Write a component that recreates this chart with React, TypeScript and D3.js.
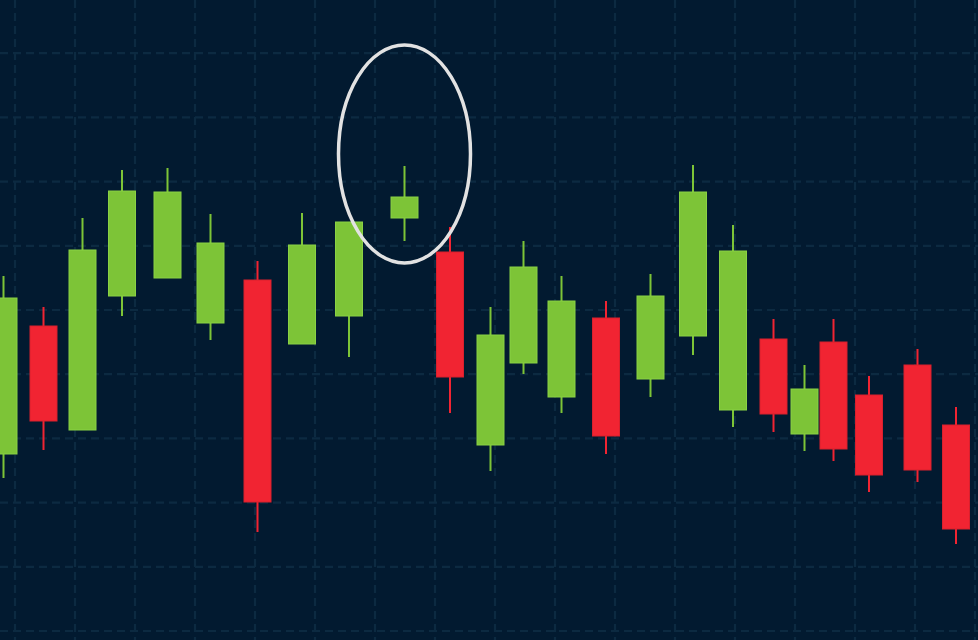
import React from "react";
import * as d3 from "d3";

const W = 978;
const H = 640;

// time position of each candle
const times = [3.5, 43.5, 82.5, 122, 167.5, 210.5, 257.5, 302, 349, 404.5, 450, 490.5, 523.5, 561.5, 606, 650.5, 693, 733, 773.5, 804.5, 833.5, 869, 917.5, 956];
const opens = [186, 314, 210, 344, 362, 317, 360, 296, 324, 422, 388, 195, 277, 243, 322, 261, 304, 230, 301, 206, 298, 245, 275, 215];
const closes = [342, 219, 390, 449, 448, 397, 138, 395, 418, 443, 263, 305, 373, 339, 204, 344, 448, 389, 226, 251, 191, 165, 170, 111];
const highs = [364, 333, 422, 470, 472, 426, 379, 427, 418, 474, 413, 333, 399, 364, 339, 366, 475, 415, 321, 275, 321, 264, 291, 233];
const lows = [162, 190, 210, 324, 362, 300, 108, 296, 283, 399, 227, 169, 266, 227, 186, 243, 285, 213, 208, 189, 179, 148, 158, 96];

// grid
const gridTimes = d3.range(15, 990, 60);
const gridPrices = d3.range(9, 660, 64.2);

// highlighted candle
const highlightIndex = 9;
const highlightCenterPrice = 486;

const BG = "#021a30";
const GRID = "#0c2a41";
const GREEN = "#7dc437";
const GREEN_EDGE = "#8ad244";
const RED = "#f12432";
const RED_EDGE = "#d9202d";

export default function App() {
  const x = d3.scaleLinear().domain([0, W]).range([0, W]);
  const y = d3.scaleLinear().domain([0, H]).range([H, 0]);
  const bodyW = 27;

  const candles = times.map((t, i) => ({
    t,
    o: opens[i],
    c: closes[i],
    h: highs[i],
    l: lows[i],
  }));

  return (
    <svg
      width={W}
      height={H}
      style={{ position: "absolute", left: 0, top: 0, display: "block" }}
    >
      <rect x={0} y={0} width={W} height={H} fill={BG} />
      <g>
        {gridTimes.map((g) => (
          <line
            key={"v" + g}
            x1={x(g)}
            x2={x(g)}
            y1={0}
            y2={H}
            stroke={GRID}
            strokeWidth={2.2}
            strokeDasharray="8 5"
          />
        ))}
        {gridPrices.map((g) => (
          <line
            key={"h" + g}
            x1={0}
            x2={W}
            y1={y(g)}
            y2={y(g)}
            stroke={GRID}
            strokeWidth={2.2}
            strokeDasharray="8 5"
          />
        ))}
      </g>
      <g>
        {candles.map((d, i) => {
          const up = d.c >= d.o;
          const fill = up ? GREEN : RED;
          const edge = up ? GREEN_EDGE : RED_EDGE;
          const cx = x(d.t);
          const top = y(Math.max(d.o, d.c));
          const bot = y(Math.min(d.o, d.c));
          return (
            <g key={i}>
              <line
                x1={cx}
                x2={cx}
                y1={y(d.h)}
                y2={y(d.l)}
                stroke={fill}
                strokeWidth={2}
              />
              <rect
                x={cx - bodyW / 2}
                y={top}
                width={bodyW}
                height={Math.max(1, bot - top)}
                fill={fill}
                stroke={edge}
                strokeWidth={1}
              />
            </g>
          );
        })}
      </g>
      <ellipse
        cx={x(times[highlightIndex])}
        cy={y(highlightCenterPrice)}
        rx={66}
        ry={109}
        fill="none"
        stroke="#e2e2e2"
        strokeWidth={3.5}
      />
    </svg>
  );
}
